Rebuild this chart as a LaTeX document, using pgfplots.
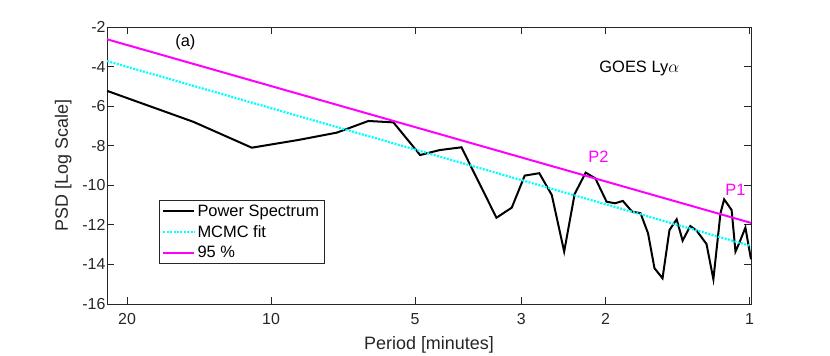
\documentclass[border=0pt]{standalone}
\usepackage{fontspec}
\setmainfont{Liberation Sans}
\usepackage{pgfplots}
\pgfplotsset{compat=1.18}
\definecolor{mlgray}{RGB}{38,38,38}
\definecolor{mag}{RGB}{255,0,255}
\definecolor{cyn}{RGB}{0,255,255}

% power spectrum (period in minutes, log PSD)
\pgfplotstableread{
per psd
22.0 -5.23
14.54 -6.79
10.97 -8.10
8.77 -7.71
7.29 -7.34
6.26 -6.75
5.55 -6.82
4.88 -8.47
4.44 -8.22
4.00 -8.08
3.38 -11.64
3.14 -11.13
2.95 -9.51
2.75 -9.39
2.59 -10.49
2.44 -13.35
2.32 -10.44
2.20 -9.36
2.10 -9.65
1.99 -10.83
1.91 -10.91
1.84 -10.79
1.76 -11.33
1.69 -11.41
1.63 -12.42
1.58 -14.19
1.52 -14.70
1.47 -12.26
1.42 -11.72
1.38 -12.80
1.33 -12.06
1.29 -12.29
1.23 -12.97
1.19 -14.75
1.15 -11.41
1.13 -10.71
1.09 -11.25
1.07 -13.35
1.05 -12.90
1.02 -12.14
0.993 -13.74
}\spectrum

\begin{document}
\begin{tikzpicture}
\path[use as bounding box] (0,0) rectangle (830bp,356bp);
\begin{axis}[
    at={(107bp,52bp)}, anchor=south west,
    scale only axis,
    width=644bp, height=277bp,
    xmode=log, x dir=reverse,
    xmin=0.993, xmax=22.02,
    ymin=-16, ymax=-2,
    xtick={1,2,3,5,10,20},
    xticklabels={1,2,3,5,10,20},
    minor xtick={},
    ytick={-16,-14,-12,-10,-8,-6,-4,-2},
    yticklabels={-16,-14,-12,-10,-8,-6,-4,-2},
    tick align=inside,
    major tick length=7bp,
    axis line style={mlgray, line width=0.9bp},
    every tick/.style={mlgray, line width=0.9bp},
    tick label style={font=\fontsize{16}{19}\selectfont, text=mlgray},
    xticklabel style={yshift=-6bp},
    yticklabel style={xshift=2bp},
    xlabel={Period [minutes]},
    ylabel={PSD [Log Scale]},
    label style={font=\fontsize{18}{21}\selectfont, text=mlgray},
    xlabel style={at={(axis description cs:0.5,-0.148)}, anchor=center},
    ylabel style={at={(axis description cs:-0.068,0.5)}, anchor=center},
    legend cell align=left,
    legend style={at={(rel axis cs:0.0807,0.3755)}, anchor=north west,
        draw=mlgray, line width=0.7bp, font=\fontsize{16.5}{19}\selectfont,
        row sep=3.5bp, inner xsep=3bp, inner ysep=2.5bp},
    legend image code/.code={\draw[#1] (0bp,0bp) -- (31bp,0bp);},
    clip=false,
]
\addplot[black, line width=2bp] table[x=per, y=psd] {\spectrum};
\addlegendentry{Power Spectrum}
\addplot[cyn, line width=2.2bp, dash pattern=on 2bp off 1.4bp] coordinates {(22.02,-3.72) (0.993,-13.07)};
\addlegendentry{MCMC fit}
\addplot[mag, line width=2bp] coordinates {(22.02,-2.62) (0.993,-11.90)};
\addlegendentry{95 \%}
\node[font=\fontsize{16.5}{19}\selectfont, text=black] at (axis cs:15.1,-2.76) {(a)};
\node[font=\fontsize{16.5}{19}\selectfont, text=black] at (axis cs:1.70,-4.12) {GOES Ly$\alpha$};
\node[font=\fontsize{16.5}{19}\selectfont, text=mag] at (axis cs:2.07,-8.57) {P2};
\node[font=\fontsize{16.5}{19}\selectfont, text=mag] at (axis cs:1.07,-10.24) {P1};
\end{axis}
\end{tikzpicture}
\end{document}
